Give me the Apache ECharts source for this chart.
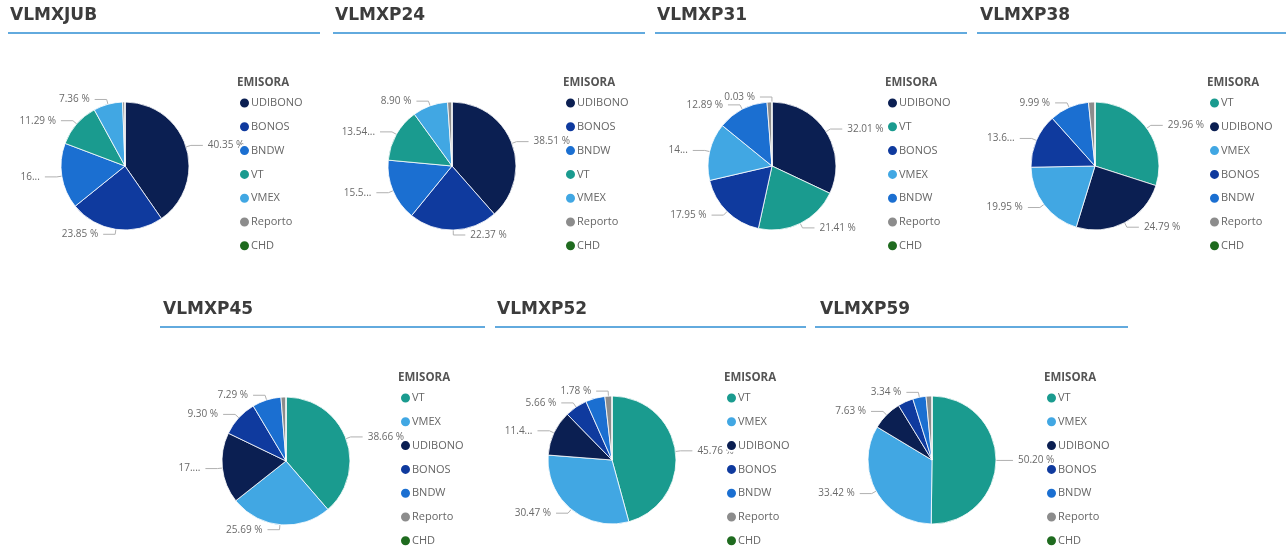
<!DOCTYPE html>
<html>
<head>
<meta charset="utf-8">
<script src="https://cdn.jsdelivr.net/npm/echarts@6/dist/echarts.min.js"></script>
<style>
html,body{margin:0;padding:0;background:#fff;}
#c{width:1286px;height:550px;}
</style>
</head>
<body>
<div id="c"></div>
<script>
// ---- data ----
const categories = ['UDIBONO', 'BONOS', 'BNDW', 'VT', 'VMEX', 'Reporto', 'CHD'];
const panels = ['VLMXJUB', 'VLMXP24', 'VLMXP31', 'VLMXP38', 'VLMXP45', 'VLMXP52', 'VLMXP59'];
const legendTitle = 'EMISORA';
// values (%) in category order
const VLMXJUB = [40.35, 23.85, 16.55, 11.29, 7.36, 0.60, 0];
const VLMXP24 = [38.51, 22.37, 15.58, 13.54, 8.90, 1.10, 0];
const VLMXP31 = [32.01, 17.95, 12.89, 21.41, 14.50, 1.21, 0.03];
const VLMXP38 = [24.79, 13.68, 9.99, 29.96, 19.95, 1.63, 0];
const VLMXP45 = [17.80, 9.30, 7.29, 38.66, 25.69, 1.26, 0];
const VLMXP52 = [11.45, 5.66, 4.88, 45.76, 30.47, 1.78, 0];
const VLMXP59 = [7.63, 3.92, 3.34, 50.20, 33.42, 1.49, 0];
const panelValues = [VLMXJUB, VLMXP24, VLMXP31, VLMXP38, VLMXP45, VLMXP52, VLMXP59];

// ---- presentation ----
const colors = {
  UDIBONO: '#0b1f52', BONOS: '#0f3a9e', BNDW: '#1b6fd1', VT: '#1a9b8f',
  VMEX: '#41a7e3', Reporto: '#8c8c8c', CHD: '#1f6b1f'
};
// label visibility / truncation as in the reference
const hiddenLabels = [
  ['Reporto', 'CHD'], ['Reporto', 'CHD'], ['Reporto'], ['Reporto', 'CHD'],
  ['Reporto', 'CHD'], ['BNDW', 'CHD'], ['BONOS', 'Reporto', 'CHD']
];
const truncated = [
  {BNDW: 2}, {BNDW: 4, VT: 5}, {VMEX: 2}, {BONOS: 4}, {UDIBONO: 3}, {UDIBONO: 4}, {}
];
const layout = [
  {tx: 10, ty: 17, line: [8, 320], ly: 33, cx: 125, cy: 166, lgx: 238, lgy: 83},
  {tx: 335, ty: 17, line: [333, 645], ly: 33, cx: 452, cy: 166, lgx: 564, lgy: 83},
  {tx: 657, ty: 17, line: [655, 967], ly: 33, cx: 772, cy: 166, lgx: 886, lgy: 83},
  {tx: 980, ty: 17, line: [977, 1286], ly: 33, cx: 1095, cy: 166, lgx: 1208, lgy: 83},
  {tx: 163, ty: 311, line: [160, 485], ly: 327, cx: 286, cy: 461, lgx: 399, lgy: 378},
  {tx: 497, ty: 311, line: [495, 806], ly: 327, cx: 612, cy: 460, lgx: 725, lgy: 378},
  {tx: 820, ty: 311, line: [815, 1128], ly: 327, cx: 932, cy: 460, lgx: 1045, lgy: 378}
];

const series = [], legends = [], graphics = [];
panels.forEach((p, i) => {
  const L = layout[i];
  const items = categories.map((c, k) => ({name: c, value: panelValues[i][k]}))
    .sort((a, b) => b.value - a.value);
  const hid = hiddenLabels[i], tr = truncated[i];
  series.push({
    type: 'pie',
    name: p,
    center: [L.cx, L.cy],
    radius: [0, 64],
    startAngle: 90,
    clockwise: true,
    avoidLabelOverlap: false,
    animation: false,
    itemStyle: {borderColor: '#fff', borderWidth: 0.8},
    label: {
      fontSize: 10, color: '#6a6a6a', fontFamily: 'Open Sans',
      formatter: (prm) => {
        const s = prm.value.toFixed(2);
        if (tr[prm.name] !== undefined) return s.slice(0, tr[prm.name]) + '...';
        return s + ' %';
      }
    },
    labelLine: {length: 5, length2: 12, lineStyle: {color: '#b0b0b0', width: 1}},
    emphasis: {disabled: true},
    data: items.map(it => ({
      name: it.name, value: it.value,
      itemStyle: {color: colors[it.name]},
      label: {show: !hid.includes(it.name)},
      labelLine: {show: !hid.includes(it.name)}
    }))
  });
  legends.push({
    orient: 'vertical', left: L.lgx, top: L.lgy + 13.5, height: 175, padding: 0,
    data: items.map(it => it.name),
    icon: 'circle', itemWidth: 11, itemHeight: 11, itemGap: 10.8,
    textStyle: {fontSize: 11, color: '#666', fontFamily: 'Open Sans', lineHeight: 13, padding: [0, 0, 0, -4]},
    selectedMode: false
  });
  graphics.push({
    type: 'text', left: L.tx, top: L.ty - 10,
    style: {text: p, font: 'bold 17px "DejaVu Sans"', fill: '#3c3c3c'}
  });
  graphics.push({
    type: 'line', shape: {x1: L.line[0], y1: L.ly, x2: L.line[1], y2: L.ly},
    style: {stroke: '#62aade', lineWidth: 2}
  });
  graphics.push({
    type: 'text', left: L.lgx - 1, top: L.lgy - 6,
    style: {text: legendTitle, font: 'bold 11.5px "Open Sans"', fill: '#555'}
  });
});

const chart = echarts.init(document.getElementById('c'), null, {renderer: 'canvas'});
chart.setOption({
  animation: false,
  legend: legends,
  series: series,
  graphic: graphics
});
</script>
</body>
</html>
